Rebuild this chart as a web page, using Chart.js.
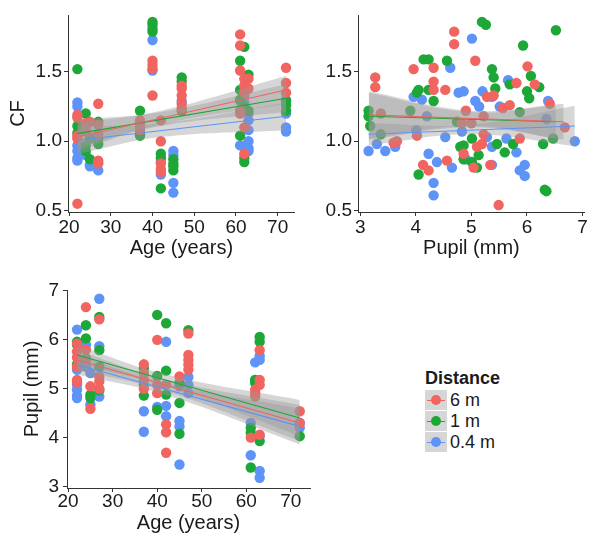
<!DOCTYPE html>
<html>
<head>
<meta charset="utf-8">
<script src="https://cdn.jsdelivr.net/npm/chart.js@4.4.0/dist/chart.umd.min.js"></script>
<style>
  body { margin: 0; background: #fff; width: 590px; height: 544px; position: relative; overflow: hidden;
         font-family: "Liberation Sans", Arial, Helvetica, sans-serif; }
  canvas { position: absolute; }
  #legend { position: absolute; left: 425px; top: 367px; color: #1a1a1a; }
  #legend .ttl { font-weight: bold; font-size: 18px; line-height: 22px; margin-bottom: 1px; }
  #legend .row { height: 21px; display: flex; align-items: center; }
  #legend .key { position: relative; width: 22px; height: 20px; background: #d6d6d6; margin-bottom: 1px; }
  #legend .key i { position: absolute; left: 2px; right: 2px; top: 10px; height: 1px; }
  #legend .key b { position: absolute; left: 6px; top: 5px; width: 10px; height: 10px; border-radius: 50%; }
  #legend .lbl { font-size: 18px; margin-left: 3px; }
</style>
</head>
<body>
<canvas id="cfAge" width="300" height="270" style="left:0;top:0"></canvas>
<canvas id="cfPupil" width="300" height="270" style="left:290px;top:0"></canvas>
<canvas id="pupilAge" width="320" height="274" style="left:0;top:270px"></canvas>
<div id="legend"><div class="ttl">Distance</div></div>
<script>
const distances = ['6 m', '1 m', '0.4 m'];
const pointColors = ['#F1645F', '#1DA737', '#5E93F7'];

const cfTicks = [0.5, 1.0, 1.5];
const ageTicks = [20, 30, 40, 50, 60, 70];
const pupilTicks = [3, 4, 5, 6, 7];

// CF vs age, one list per distance: [age, CF]
const cfAge6m = [[22,1.19],[22,1.17],[22,1.04],[22,1.02],[22,0.55],[24,1.13],[24,1.10],[24,1.07],[25,1.14],
  [27,1.27],[27,1.12],[27,1.05],[27,0.86],[27,0.84],[37,1.15],[37,1.13],[37,1.10],[37,1.08],
  [40,1.58],[40,1.55],[40,1.52],[40,1.33],[42,1.15],[42,1.00],[42,0.84],[42,0.80],[42,0.78],
  [47,1.40],[47,1.38],[47,1.33],[47,1.27],[47,1.24],[61,1.77],[61,1.69],[61,1.51],[61,1.22],[61,1.20],
  [62,1.45],[62,1.40],[62,1.35],[62,1.10],[62,0.91],[63,1.45],[63,1.38],[72,1.53],[72,1.42],[72,1.35]];
const cfAge1m = [[22,1.52],[22,1.11],[22,1.06],[24,1.20],[24,0.97],[24,0.93],[25,0.87],[25,1.02],
  [27,1.14],[27,1.02],[27,0.98],[37,1.22],[37,1.04],[40,1.86],[40,1.84],[40,1.81],[40,1.79],
  [42,0.91],[42,0.88],[42,0.66],[45,0.87],[45,0.84],[45,0.82],[45,0.79],[47,1.46],[47,1.43],[47,1.22],
  [61,1.58],[61,1.37],[61,1.30],[61,1.04],[62,1.68],[62,1.25],[62,0.88],[62,0.85],[63,1.48],[63,1.22],
  [72,1.29],[72,1.26],[72,1.22]];
const cfAge04m = [[22,1.28],[22,1.25],[22,0.97],[22,0.93],[22,0.88],[22,0.86],[24,0.90],[25,0.83],[25,0.82],
  [27,0.79],[37,1.05],[37,1.07],[40,1.73],[40,1.51],[42,0.85],[42,0.76],[45,0.93],[45,0.90],[45,0.70],[45,0.63],
  [47,1.29],[61,1.29],[61,0.97],[62,1.35],[62,1.33],[62,1.28],[63,1.20],[63,1.15],[63,1.08],[63,1.00],
  [63,0.95],[63,0.93],[72,1.30],[72,1.20],[72,1.10],[72,1.07]];

// CF vs pupil: [pupil mm, CF]
const cfPupil6m = [[3.27,1.46],[3.27,1.39],[3.37,1.20],[3.60,0.99],[3.66,1.00],[3.96,1.52],[4.02,1.04],[4.13,0.83],
  [4.23,0.79],[4.32,1.53],[4.32,1.43],[4.32,1.37],[4.53,1.37],[4.56,0.86],[4.69,1.79],[4.69,1.70],[4.83,1.13],
  [4.86,0.91],[4.90,1.22],[5.00,1.13],[5.07,1.58],[5.04,0.81],[5.10,0.96],[5.19,0.98],[5.22,1.18],[5.28,1.32],
  [5.22,1.05],[5.34,0.83],[5.40,1.33],[5.49,0.54],[5.57,1.24],[5.69,1.26],[5.81,1.42],[5.87,1.02],[6.01,1.54],
  [6.14,1.41],[6.41,1.27],[6.68,1.10]];
const cfPupil1m = [[3.15,1.22],[3.15,1.18],[3.18,1.11],[3.37,1.05],[3.90,1.22],[4.02,1.35],[4.05,1.37],[4.05,0.76],
  [4.14,1.59],[4.23,1.59],[4.23,1.37],[4.32,1.29],[4.56,1.58],[4.74,1.14],[4.80,0.96],[4.86,0.87],[4.86,0.97],
  [5.01,1.02],[5.01,0.85],[5.10,0.81],[5.13,0.90],[5.19,1.86],[5.26,1.84],[5.37,1.52],[5.40,1.46],[5.43,1.38],
  [5.46,0.98],[5.60,0.92],[5.69,1.41],[5.75,0.98],[5.87,1.21],[5.93,1.69],[6.00,1.36],[6.04,1.31],[6.07,1.47],
  [6.22,1.39],[6.29,0.98],[6.32,0.65],[6.35,0.64],[6.47,1.02],[6.52,1.80]];
const cfPupil04m = [[3.15,0.93],[3.30,0.98],[3.45,0.93],[3.63,0.96],[3.96,1.32],[4.01,1.08],[4.11,1.30],[4.20,1.18],
  [4.23,0.91],[4.32,0.70],[4.32,0.61],[4.38,0.85],[4.53,1.03],[4.62,1.53],[4.65,0.81],[4.77,1.35],[4.83,1.07],
  [4.86,1.36],[4.90,0.87],[5.01,1.74],[5.07,1.29],[5.14,1.25],[5.20,1.36],[5.28,1.03],[5.37,0.83],[5.37,0.96],
  [5.37,1.32],[5.51,1.25],[5.66,1.44],[5.63,1.02],[5.81,0.92],[5.87,0.79],[5.96,0.83],[5.96,0.75],[6.35,1.16],
  [6.38,1.29],[6.86,1.00]];

// pupil vs age: [age, pupil mm]
const pupilAge6m = [[22,5.92],[22,5.76],[22,5.64],[22,5.45],[22,5.18],[22,5.13],[24,6.67],[24,5.80],[24,5.59],
  [25,5.05],[25,4.59],[27,6.42],[27,5.25],[27,5.15],[27,5.00],[37,5.50],[37,5.32],[37,5.18],[37,5.00],
  [40,6.00],[40,5.08],[40,4.91],[42,5.08],[42,4.27],[42,4.11],[42,3.69],[45,5.25],[47,6.13],[47,5.69],
  [47,5.59],[47,5.49],[47,5.39],[62,4.98],[62,4.91],[62,4.84],[61,4.00],[63,5.79],[63,5.18],[63,5.08],
  [63,4.06],[72,4.54],[72,4.30]];
const pupilAge1m = [[22,5.96],[22,5.90],[22,5.50],[24,6.30],[24,6.03],[24,5.62],[25,4.88],[25,4.81],[27,6.47],
  [27,5.79],[27,5.45],[27,4.97],[37,5.42],[37,5.08],[37,4.86],[40,6.51],[40,5.26],[40,4.57],[42,6.34],
  [42,5.37],[42,4.88],[45,5.12],[45,4.71],[45,4.08],[47,6.20],[62,5.18],[62,5.12],[61,4.20],[61,4.10],
  [61,3.39],[63,6.06],[63,5.96],[63,3.93],[72,4.03]];
const pupilAge04m = [[22,6.21],[22,5.39],[22,5.08],[22,4.98],[22,4.86],[22,4.81],[24,5.90],[24,5.45],[25,5.32],
  [25,4.68],[27,6.84],[27,5.87],[27,4.84],[37,4.54],[37,4.12],[40,4.63],[42,5.96],[42,4.65],[42,4.44],
  [45,5.05],[45,4.34],[45,4.23],[45,3.45],[47,5.24],[47,5.08],[47,4.91],[62,5.54],[62,5.18],[61,4.30],
  [61,3.64],[63,5.67],[63,5.59],[63,4.03],[63,3.32],[63,3.18],[72,4.30],[72,4.20]];

// fitted lines and their confidence bands (6 m, 1 m, 0.4 m)
const ageFitX = [[22, 72], [22, 72], [22, 72]];
const cfAgeFitY = [[1.03, 1.37], [1.055, 1.31], [1.007, 1.18]];
const ageBandX = [[22, 42, 72], [22, 42, 72], [22, 42, 72]];
const cfAgeBandLo = [[0.93, 1.12, 1.27], [0.955, 1.11, 1.21], [0.907, 1.03, 1.08]];
const cfAgeBandHi = [[1.13, 1.22, 1.47], [1.155, 1.21, 1.41], [1.107, 1.13, 1.28]];

const pupilFitX = [[3.16, 6.66], [3.15, 6.52], [3.15, 6.86]];
const cfPupilFitY = [[1.19, 1.14], [1.18, 1.14], [1.05, 1.11]];
const pupilBandX = [[3.16, 5.0, 6.66], [3.15, 5.0, 6.52], [3.15, 5.0, 6.86]];
const cfPupilBandLo = [[1.02, 1.11, 1.01], [1.01, 1.10, 1.02], [0.97, 1.05, 0.965]];
const cfPupilBandHi = [[1.36, 1.22, 1.27], [1.35, 1.21, 1.26], [1.13, 1.12, 1.255]];

const pupilAgeFitY = [[5.59, 4.30], [5.69, 4.40], [5.49, 4.23]];
const pupilAgeBandLo = [[5.39, 4.95, 3.93], [5.49, 5.05, 4.03], [5.29, 4.87, 3.86]];
const pupilAgeBandHi = [[5.79, 5.19, 4.67], [5.89, 5.29, 4.77], [5.69, 5.11, 4.60]];

const FONT = '"Liberation Sans", Arial, Helvetica, sans-serif';
const INK = '#1a1a1a';
const tickFont = { family: FONT, size: 19, lineHeight: 1 };
const titleFont = { family: FONT, size: 20, lineHeight: 1.2 };

function axisOpts(c) {
  return {
    type: 'linear', min: c.min, max: c.max,
    afterBuildTicks: s => { s.ticks = c.ticks.map(v => ({ value: v })); },
    afterFit: s => { if (c.horiz) s.height = c.size; else s.width = c.size; },
    ticks: { font: tickFont, color: INK, padding: c.pad, maxRotation: 0, autoSkip: false, callback: c.fmt },
    grid: { drawOnChartArea: false, drawTicks: true, tickLength: 4, color: '#333' },
    border: { display: true, color: '#333', width: 1 },
    title: { display: !!c.title, text: c.title, font: titleFont, color: INK, padding: c.titlePad }
  };
}

function makePanel(id, p) {
  const datasets = [];
  p.points.forEach((pts, i) => {
    datasets.push({ label: distances[i], data: pts.map(([x, y]) => ({ x, y })),
      backgroundColor: pointColors[i], borderWidth: 0, pointRadius: 5.2, order: 3 });
  });
  p.bandX.forEach((xs, i) => {
    datasets.push({ type: 'line', data: xs.map((x, k) => ({ x, y: p.bandLo[i][k] })),
      borderColor: 'transparent', borderWidth: 0, pointRadius: 0, tension: 0.4, fill: false, order: 2 });
    datasets.push({ type: 'line', data: xs.map((x, k) => ({ x, y: p.bandHi[i][k] })),
      borderColor: 'transparent', borderWidth: 0, pointRadius: 0, tension: 0.4, fill: '-1',
      backgroundColor: 'rgba(153,153,153,0.4)', order: 2 });
  });
  p.fitY.forEach((ys, i) => {
    datasets.push({ type: 'line', data: p.fitX[i].map((x, k) => ({ x, y: ys[k] })),
      borderColor: pointColors[i], borderWidth: 1.1, pointRadius: 0, fill: false, order: 1 });
  });
  new Chart(document.getElementById(id), {
    type: 'scatter',
    data: { datasets },
    options: {
      responsive: false, animation: false, events: [],
      layout: { padding: p.padding },
      plugins: { legend: { display: false }, tooltip: { enabled: false } },
      scales: { x: axisOpts(p.x), y: axisOpts(p.y) }
    }
  });
}

makePanel('cfAge', {
  points: [cfAge6m, cfAge1m, cfAge04m],
  fitX: ageFitX, fitY: cfAgeFitY, bandX: ageBandX, bandLo: cfAgeBandLo, bandHi: cfAgeBandHi,
  padding: { top: 15, right: 5, left: 0, bottom: 0 },
  x: { horiz: true, min: 19.75, max: 74.1, ticks: ageTicks, size: 58, pad: 2, fmt: v => String(v),
       title: 'Age (years)', titlePad: { top: 0, bottom: 10 } },
  y: { min: 0.49, max: 1.91, ticks: cfTicks, size: 68, pad: 2, fmt: v => v.toFixed(1),
       title: 'CF', titlePad: { top: 6, bottom: 0 } }
});

makePanel('cfPupil', {
  points: [cfPupil6m, cfPupil1m, cfPupil04m],
  fitX: pupilFitX, fitY: cfPupilFitY, bandX: pupilBandX, bandLo: cfPupilBandLo, bandHi: cfPupilBandHi,
  padding: { top: 15, right: 5, left: 0, bottom: 0 },
  x: { horiz: true, min: 2.96, max: 7.04, ticks: pupilTicks, size: 58, pad: 2, fmt: v => String(v),
       title: 'Pupil (mm)', titlePad: { top: 0, bottom: 10 } },
  y: { min: 0.49, max: 1.91, ticks: cfTicks, size: 68, pad: 2, fmt: v => v.toFixed(1), title: '' }
});

makePanel('pupilAge', {
  points: [pupilAge6m, pupilAge1m, pupilAge04m],
  fitX: ageFitX, fitY: pupilAgeFitY, bandX: ageBandX, bandLo: pupilAgeBandLo, bandHi: pupilAgeBandHi,
  padding: { top: 20, right: 10, left: 0, bottom: 0 },
  x: { horiz: true, min: 19.75, max: 74.3, ticks: ageTicks, size: 56, pad: 0, fmt: v => String(v),
       title: 'Age (years)', titlePad: { top: 0, bottom: 9 } },
  y: { min: 2.97, max: 7.02, ticks: pupilTicks, size: 67, pad: 4, fmt: v => String(v),
       title: 'Pupil (mm)', titlePad: { top: 20, bottom: 0 } }
});

// legend
const legend = document.getElementById('legend');
distances.forEach((name, i) => {
  const row = document.createElement('div');
  row.className = 'row';
  row.innerHTML = '<div class="key"><i style="background:' + pointColors[i] + '"></i><b style="background:' +
    pointColors[i] + '"></b></div><span class="lbl">' + name + '</span>';
  legend.appendChild(row);
});
</script>
</body>
</html>
